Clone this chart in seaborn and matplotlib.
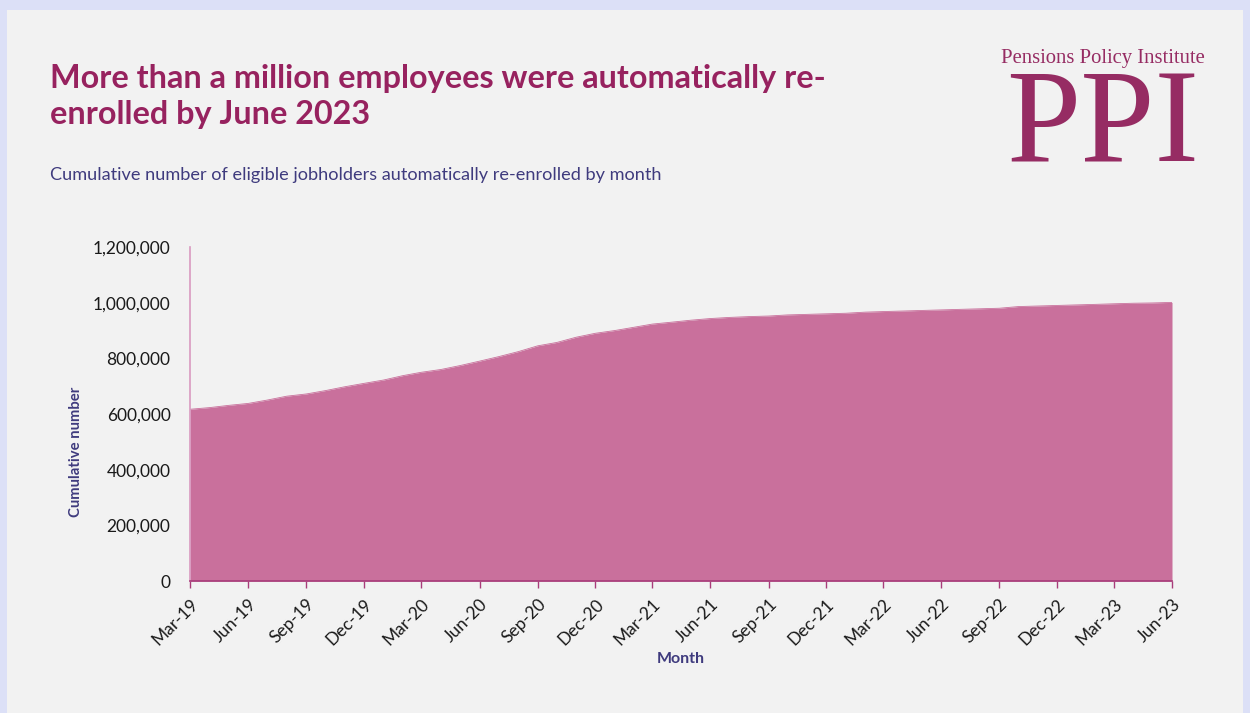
import matplotlib
matplotlib.use("Agg")
import matplotlib.pyplot as plt
import matplotlib.ticker as mticker
from matplotlib.patches import Rectangle
import pandas as pd
import seaborn as sns

# Monthly cumulative re-enrolments, March 2019 to June 2023
months = pd.date_range("2019-03-01", "2023-06-01", freq="MS")
cumulative = [
    617000, 623000, 631000, 638000, 650000, 664000, 672000, 684000, 698000, 710000,
    722000, 738000, 750000, 760000, 774000, 790000, 806000, 824000, 845000, 857000,
    876000, 890000, 900000, 912000, 923000, 930000, 937000, 943000, 947000, 950000,
    952000, 956000, 958000, 960000, 962000, 966000, 968000, 970000, 972000, 974000,
    976000, 978000, 980000, 986000, 988000, 990000, 992000, 994000, 996000, 998000,
    999000, 1001000,
]
y_ticks = [0, 200000, 400000, 600000, 800000, 1000000, 1200000]

title = "More than a million employees were automatically re-\nenrolled by June 2023"
subtitle = "Cumulative number of eligible jobholders automatically re-enrolled by month"

df = pd.DataFrame({"Month": months, "Cumulative number": cumulative})

sns.set_theme(style="white")
plt.rcParams["font.family"] = ["Lato", "DejaVu Sans"]

FILL = "#C9709C"
TITLE_C = "#97225F"
NAVY = "#3F3B7E"
BORDER = "#DCE0F7"
PANEL = "#F2F2F2"

fig = plt.figure(figsize=(12.5, 7.13), dpi=100, facecolor=BORDER)
fig.patches.append(Rectangle((7 / 1250, 0), 1236 / 1250, 1 - 10 / 713,
                             transform=fig.transFigure, facecolor=PANEL,
                             edgecolor="none", zorder=-10))

ax = fig.add_axes([190 / 1250, 1 - 581 / 713, (1172 - 190) / 1250, (581 - 247) / 713])
ax.set_facecolor(PANEL)

sns.lineplot(data=df, x="Month", y="Cumulative number", ax=ax, color=FILL, linewidth=0.6)
ax.fill_between(df["Month"], df["Cumulative number"], 0, color=FILL, linewidth=0)

ax.set_xlim(months[0], months[-1])
ax.set_ylim(0, 1200000)
ax.set_yticks(y_ticks)
ax.yaxis.set_major_formatter(mticker.StrMethodFormatter("{x:,.0f}"))

tick_months = months[::3]
ax.set_xticks(tick_months)
ax.set_xticklabels([m.strftime("%b-%y") for m in tick_months], rotation=45,
                   ha="right", va="top", rotation_mode="anchor")

for s in ["top", "right"]:
    ax.spines[s].set_visible(False)
ax.spines["left"].set_color("#D99AC0")
ax.spines["left"].set_linewidth(1.2)
ax.spines["bottom"].set_color("#A83C7A")
ax.spines["bottom"].set_linewidth(1.2)

ax.tick_params(axis="x", bottom=True, length=5, width=1, color="#A83C7A",
               labelsize=12.5, pad=6, labelcolor="#1a1a1a")
ax.tick_params(axis="y", left=False, labelsize=12.5, pad=8, labelcolor="#1a1a1a")

ax.set_xlabel("Month", fontsize=11.5, fontweight="bold", color=NAVY)
ax.xaxis.set_label_coords(0.5, -0.212)
ax.set_ylabel("Cumulative number", fontsize=10.7, fontweight="bold", color=NAVY)
ax.yaxis.set_label_coords(-0.109, 0.386)

fig.text(50 / 1250, 1 - 64 / 713, title, fontsize=23.3, fontweight="bold",
         color=TITLE_C, va="top", ha="left", linespacing=1.3)
fig.text(50 / 1250, 1 - 175 / 713, subtitle, fontsize=13.1, color=NAVY,
         va="center", ha="left")

# Logo lettering
LOGO = "#962C63"
fig.text(1103 / 1250, 1 - 63 / 713, "Pensions Policy Institute", fontsize=14.9,
         family="Liberation Serif", color=LOGO, ha="center", va="baseline")
fig.text(1103 / 1250, 1 - 161 / 713, "PPI", fontsize=96, family="Liberation Serif",
         color=LOGO, ha="center", va="baseline")

fig.savefig("out.png", dpi=100, facecolor=BORDER)
